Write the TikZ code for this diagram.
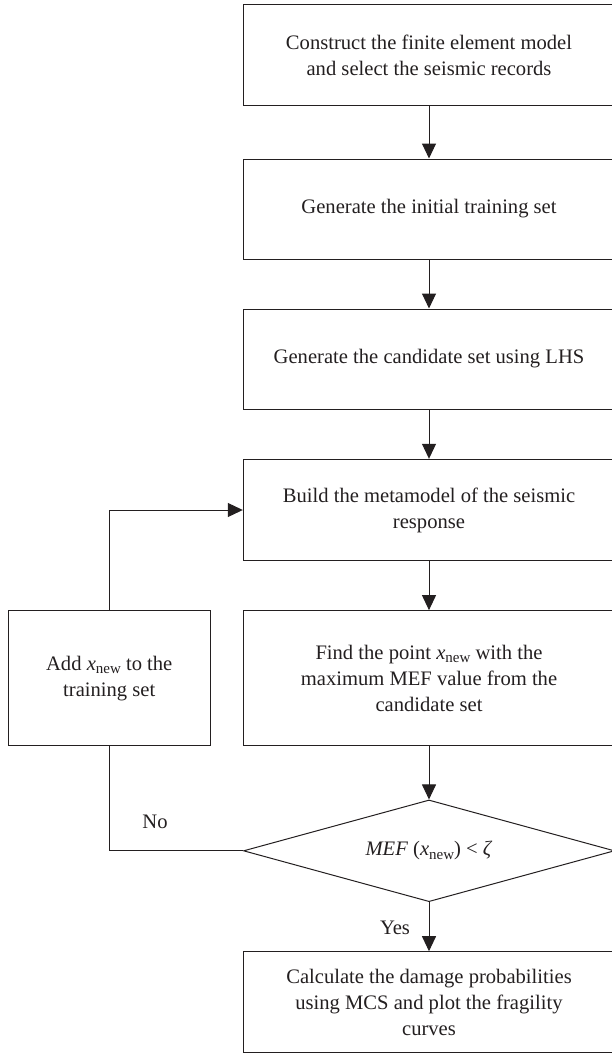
\documentclass[tikz,border=0pt]{standalone}
\usepackage{fontspec}
\setmainfont{Liberation Serif}
\usetikzlibrary{shapes.geometric,arrows.meta}
\newcommand{\xnew}{\textit{x}\raisebox{-0.35ex}{\fontsize{15}{15}\selectfont new}}
\definecolor{ink}{HTML}{231F20}
\begin{document}
\begin{tikzpicture}[x=1pt,y=-1pt,
  every node/.style={text=ink,font=\fontsize{20.6}{26}\selectfont},
  flowbox/.style={draw=ink,line width=1pt,inner sep=0pt,minimum width=371.4pt,align=center},
  sidebox/.style={draw=ink,line width=1pt,inner sep=0pt,minimum width=201.5pt,align=center},
  decision/.style={draw=ink,line width=1pt,diamond,aspect=3.65,inner sep=0pt,minimum width=371pt,minimum height=101.7pt},
  conn/.style={draw=ink,line width=1pt},
  arr/.style={conn,-{Triangle[width=14pt,length=15pt]}},
  lbl/.style={inner sep=0pt}]
\useasboundingbox (0,0) rectangle (611,1055);
\node[flowbox,minimum height=101.7pt] (b1) at (429,54.85) {Construct the finite element model\\and select the seismic records};
\node[flowbox,minimum height=100pt] (b2) at (429,209) {Generate the initial training set};
\node[flowbox,minimum height=100pt] (b3) at (429,359) {Generate the candidate set using LHS};
\node[flowbox,minimum height=101.4pt] (b4) at (429,510) {Build the metamodel of the seismic\\response};
\node[flowbox,minimum height=135.3pt] (b5) at (429,678.3) {Find the point \xnew{} with the\\maximum MEF value from the\\candidate set};
\node[sidebox,minimum height=135.3pt] (add) at (109.25,678.3) {Add \xnew{} to the\\training set};
\node[decision] (dec) at (429,850.8) {\textit{MEF} (\xnew) < \textit{ζ}};
\node[flowbox,minimum height=101pt] (b6) at (429,1002.2) {Calculate the damage probabilities\\using MCS and plot the fragility\\curves};
\draw[arr] (b1) -- (b2);
\draw[arr] (b2) -- (b3);
\draw[arr] (b3) -- (b4);
\draw[arr] (b4) -- (b5);
\draw[arr] (b5) -- (dec);
\draw[arr] (dec) -- (b6);
\draw[conn] (dec.west) -| (add.south);
\draw[arr] (add.north) |- (b4.west);
\node[lbl] (no) at (155,821.7) {No};
\node[lbl] (yes) at (395,928) {Yes};
\end{tikzpicture}
\end{document}
